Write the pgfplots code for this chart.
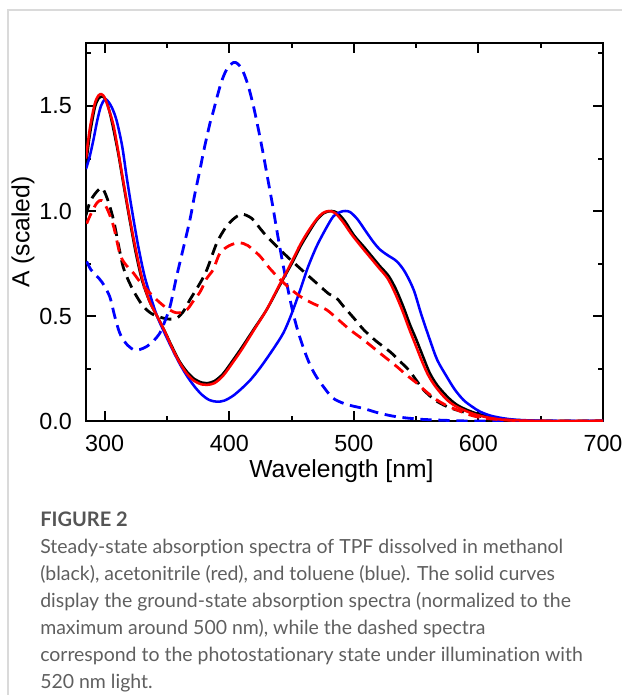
\documentclass[border=0pt]{standalone}
\usepackage{fontspec}
\setmainfont{Liberation Sans}
\newfontfamily\capfont{Lato}[Ligatures=NoCommon]
\usepackage{pgfplots}
\pgfplotsset{compat=1.18}
\definecolor{capgray}{RGB}{95,95,95}
\definecolor{headgray}{RGB}{85,85,85}
\definecolor{framegray}{RGB}{218,218,218}

\begin{document}
\begin{tikzpicture}
\path[use as bounding box] (0,0) rectangle (465.75pt,-521.25pt);

% frame and caption, in image pixels
\begin{scope}[x=0.75pt,y=-0.75pt]
\draw[framegray, line width=1.1pt] (8,700) -- (8,10) -- (630,10);
\node[anchor=base west, inner sep=0, text=headgray, font=\capfont\bfseries\fontsize{15}{17}\selectfont] at (40,526) {FIGURE 2};
\begin{scope}[every node/.style={anchor=base west, inner sep=0, text=capgray, font=\capfont\fontsize{14.6}{16}\selectfont}]
\node at (40,553) {Steady-state absorption spectra of TPF dissolved in methanol};
\node at (40,580) {(black), acetonitrile (red), and toluene (blue). The solid curves};
\node at (40,607) {display the ground-state absorption spectra (normalized to the};
\node at (40,634) {maximum around 500 nm), while the dashed spectra};
\node at (40,661) {correspond to the photostationary state under illumination with};
\node at (40,688) {520 nm light.};
\end{scope}
\end{scope}

\begin{axis}[
    at={(64.5pt,-315.75pt)}, anchor=south west,
    scale only axis, width=387.75pt, height=283.5pt,
    xmin=285, xmax=700, ymin=0, ymax=1.8,
    xtick={300,400,500,600,700}, xticklabels={300,400,500,600,700},
    minor xtick={350,450,550,650},
    ytick={0,0.5,1,1.5}, yticklabels={0.0,0.5,1.0,1.5},
    minor ytick={0.25,0.75,1.25,1.75},
    tick align=inside,
    major tick length=7.5pt, minor tick length=3.75pt,
    every tick/.style={black, line width=1.5pt},
    axis line style={line width=2pt},
    tick label style={font=\fontsize{17.5}{17.5}\selectfont, inner sep=0pt},
    xticklabel style={anchor=center, yshift=-16.5pt},
    yticklabel style={anchor=east, xshift=-10.5pt},
    xlabel={Wavelength [nm]}, ylabel={A (scaled)},
    label style={font=\fontsize{18.5}{18.5}\selectfont},
    xlabel style={at={(axis description cs:0.494,-0.132)}, anchor=center},
    ylabel style={at={(axis description cs:-0.122,0.5)}, anchor=center},
    clip=true,
]
% methanol, ground state
\addplot[black, line width=1.9pt, smooth] coordinates {
(285,1.22) (288,1.36) (292,1.49) (295,1.535) (298,1.545) (301,1.53) (304,1.47)
(307,1.39) (311,1.27) (315,1.13) (320,0.96) (325,0.80) (330,0.67) (336,0.57)
(342,0.50) (348,0.43) (354,0.355) (360,0.285) (366,0.235) (372,0.20) (378,0.183)
(382,0.18) (388,0.19) (395,0.225) (403,0.29) (410,0.35) (420,0.44) (430,0.53)
(440,0.64) (446,0.705) (452,0.77) (457,0.83) (463,0.89) (470,0.955) (476,0.99)
(482,1.0) (487,0.99) (493,0.95) (500,0.885) (508,0.83) (515,0.78) (521,0.737)
(528,0.69) (534,0.625) (540,0.54) (545,0.46) (550,0.39) (556,0.30) (561,0.228)
(567,0.17) (575,0.116) (582,0.08) (590,0.055) (599,0.035) (610,0.018) (620,0.008)
(635,0.003) (650,0.0) (700,0.0)
};
% methanol, photostationary state
\addplot[black, line width=2.1pt, dash pattern=on 8.5pt off 5pt, smooth] coordinates {
(285,0.98) (288,1.04) (292,1.08) (297.6,1.11) (302,1.06) (307,0.96) (311,0.84)
(315,0.73) (320,0.657) (325,0.60) (331,0.546) (338,0.51) (347,0.49) (352,0.485)
(357.8,0.49) (363,0.52) (368.5,0.578) (376.6,0.657) (382,0.72) (390,0.848)
(397,0.92) (403,0.96) (410,0.985) (418,0.965) (425,0.915) (430,0.88) (440,0.82)
(448.8,0.77) (460,0.71) (470,0.657) (480,0.605) (486,0.586) (491.7,0.546)
(500,0.49) (508,0.434) (518,0.38) (529,0.33) (536,0.29) (544,0.243) (550,0.195)
(556,0.148) (565,0.10) (575,0.068) (585,0.048) (593,0.037) (600,0.025)
(610,0.012) (620,0.005) (630,0.0) (700,0.0)
};
% toluene, ground state
\addplot[blue, line width=1.9pt, smooth] coordinates {
(285,1.20) (288,1.26) (291,1.34) (294,1.43) (297,1.50) (300.3,1.532) (303,1.52)
(306,1.49) (309.6,1.43) (314,1.31) (317.7,1.16) (322,1.00) (327,0.83) (332,0.69)
(337,0.59) (342,0.50) (348,0.42) (354,0.345) (360,0.275) (366,0.215) (372,0.165)
(378,0.125) (384,0.10) (390,0.092) (396,0.097) (403,0.12) (410,0.155) (417,0.196)
(425,0.255) (435,0.34) (443.5,0.42) (450,0.51) (457,0.625) (463,0.73) (470,0.83)
(477,0.91) (483.6,0.975) (489,0.995) (493,1.0) (497,0.995) (503,0.96) (510,0.9)
(516,0.85) (521,0.816) (527,0.79) (534.5,0.76) (541,0.71) (548,0.625) (554,0.51)
(561,0.387) (567,0.29) (574.7,0.21) (581,0.15) (588,0.10) (595,0.068)
(601.5,0.044) (610,0.025) (620,0.013) (630,0.006) (645,0.002) (660,0.0) (700,0.0)
};
% toluene, photostationary state
\addplot[blue, line width=2.1pt, dash pattern=on 8.5pt off 5pt, smooth] coordinates {
(285.5,0.76) (289,0.72) (293.6,0.69) (298,0.66) (304,0.593) (308,0.50) (312,0.42)
(317,0.37) (323,0.34) (328,0.34) (333.8,0.355) (339,0.38) (344.4,0.42) (348,0.47)
(352.5,0.546) (357.8,0.69) (363,0.82) (368.5,0.96) (372,1.07) (376.6,1.20)
(380,1.30) (384.6,1.42) (387,1.47) (391,1.56) (394,1.62) (398,1.675) (403.3,1.707)
(407,1.70) (411,1.665) (415,1.60) (419,1.51) (423,1.40) (427,1.28) (431,1.15)
(435,1.02) (439,0.88) (443,0.75) (447,0.63) (451,0.52) (455,0.43) (460,0.34)
(465,0.265) (470,0.21) (476,0.16) (483,0.11) (491.7,0.084) (500,0.07)
(507.7,0.06) (520,0.038) (534.5,0.02) (550,0.01) (561,0.006) (580,0.002)
(600,0.0) (700,0.0)
};
% acetonitrile, ground state
\addplot[red, line width=1.9pt, smooth] coordinates {
(285,1.25) (288,1.39) (292,1.51) (295,1.55) (297.5,1.556) (300,1.54) (303,1.49)
(307,1.41) (311,1.28) (315,1.14) (320,0.97) (324.5,0.83) (330,0.68) (336,0.57)
(342,0.50) (348,0.43) (354,0.35) (360,0.28) (366,0.225) (372,0.19) (378,0.174)
(382,0.172) (388,0.18) (395,0.215) (403,0.28) (410,0.34) (420,0.435) (430,0.53)
(440,0.645) (446,0.71) (452,0.78) (457,0.84) (463,0.90) (470,0.96) (475,0.99)
(480,1.0) (485,0.99) (491,0.95) (498,0.89) (506,0.83) (513,0.78) (520,0.73)
(527,0.68) (533,0.61) (539,0.525) (544,0.445) (549,0.37) (555,0.28) (560,0.215)
(566,0.16) (574,0.105) (581,0.073) (589,0.05) (598,0.03) (609,0.015) (620,0.006)
(635,0.002) (650,0.0) (700,0.0)
};
% acetonitrile, photostationary state
\addplot[red, line width=2.1pt, dash pattern=on 8.5pt off 5pt, smooth] coordinates {
(285.5,0.94) (290,1.00) (294,1.04) (297.6,1.05) (302,1.01) (307,0.93) (312,0.80)
(315,0.76) (319,0.73) (323,0.705) (330,0.65) (339,0.593) (347,0.55) (355,0.52)
(360,0.515) (366,0.53) (371,0.57) (376.6,0.615) (382,0.68) (387,0.72)
(392.6,0.80) (400,0.835) (408,0.849) (415,0.835) (424.8,0.784) (432,0.73)
(441,0.673) (449,0.63) (457,0.593) (467,0.56) (478,0.53) (488,0.48) (497,0.434)
(507.7,0.387) (521,0.323) (534.5,0.259) (542,0.22) (550.6,0.18) (558,0.14)
(566.7,0.10) (575,0.072) (582.7,0.053) (590,0.035) (598.8,0.02) (610,0.01)
(625,0.004) (640,0.0) (700,0.0)
};
\end{axis}
\end{tikzpicture}
\end{document}
